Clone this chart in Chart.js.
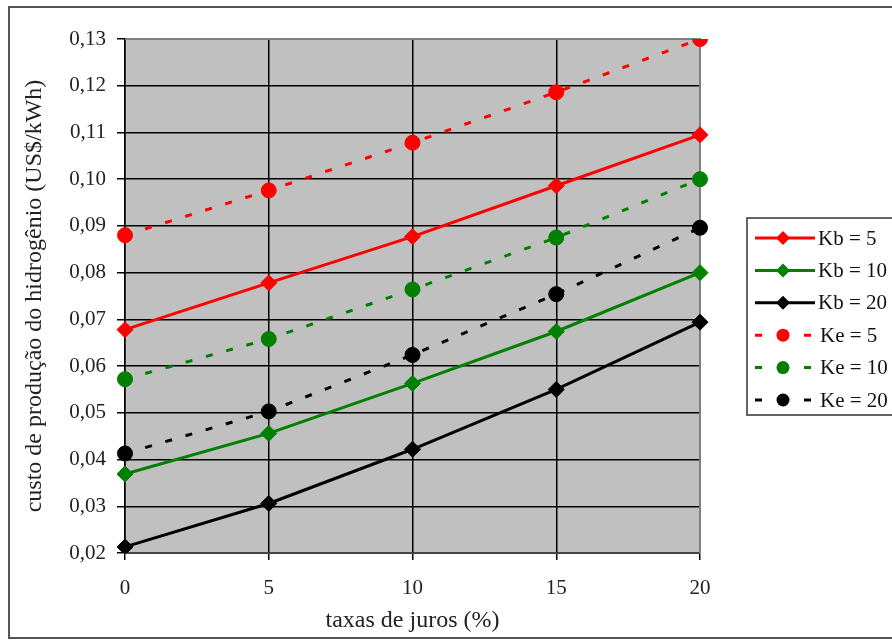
<!DOCTYPE html>
<html>
<head>
<meta charset="utf-8">
<title>custo de produção do hidrogênio</title>
<script src="https://cdn.jsdelivr.net/npm/chart.js@4/dist/chart.umd.min.js"></script>
<style>
  html, body { margin: 0; padding: 0; background: #fff; }
  #wrap { width: 892px; height: 644px; }
</style>
</head>
<body>
<div id="wrap"><canvas id="chart" width="892" height="644"></canvas></div>
<script>
// taxas de juros (%)
const categories = ['0', '5', '10', '15', '20'];

// custo (US$/kWh) per series
const kb5  = [0.0678, 0.0778, 0.0877, 0.0986, 0.1095];
const kb10 = [0.0369, 0.0456, 0.0563, 0.0674, 0.0800];
const kb20 = [0.0213, 0.0306, 0.0422, 0.0550, 0.0694];
const ke5  = [0.0880, 0.0976, 0.1078, 0.1186, 0.1300];
const ke10 = [0.0572, 0.0658, 0.0764, 0.0875, 0.1000];
const ke20 = [0.0413, 0.0503, 0.0624, 0.0754, 0.0896];

const seriesLabels = ['Kb = 5', 'Kb = 10', 'Kb = 20', 'Ke = 5', 'Ke = 10', 'Ke = 20'];
const yTicks = { min: 0.02, max: 0.13, step: 0.01 };

const RED = '#ff0000', GREEN = '#008000', BLACK = '#000000';
const FAMILY = '"Liberation Serif", "Times New Roman", serif';
const TICK_FONT = { family: FAMILY, size: 21 };
const TITLE_FONT = { family: FAMILY, size: 24 };

function solid(label, data, color){
  return { label, data, borderColor: color, backgroundColor: color, borderWidth: 3,
    pointStyle: 'rectRot', pointRadius: 8, pointBorderWidth: 1, tension: 0 };
}
function dashed(label, data, color){
  return { label, data, borderColor: color, backgroundColor: color, borderWidth: 3,
    borderDash: [7, 14], pointStyle: 'circle', pointRadius: 7.5, pointBorderWidth: 1, tension: 0 };
}

// plot background + gray frame
const plotFrame = {
  id: 'plotFrame',
  beforeDraw(chart){
    const a = chart.chartArea, c = chart.ctx;
    c.save();
    c.fillStyle = '#ffffff';
    c.fillRect(0, 0, chart.width, chart.height);
    c.fillStyle = '#c0c0c0';
    c.fillRect(a.left, a.top, a.right - a.left, a.bottom - a.top);
    c.restore();
  },
  beforeDatasetsDraw(chart){
    const a = chart.chartArea, c = chart.ctx;
    c.save();
    c.strokeStyle = '#808080';
    c.lineWidth = 2;
    c.beginPath();
    c.moveTo(a.left, a.top); c.lineTo(a.right, a.top); c.lineTo(a.right, a.bottom);
    c.stroke();
    c.restore();
  }
};

function marker(c, style, x, y, r){
  c.beginPath();
  if (style === 'rectRot'){
    c.moveTo(x, y - r); c.lineTo(x + r, y); c.lineTo(x, y + r); c.lineTo(x - r, y); c.closePath();
  } else {
    c.arc(x, y, r, 0, Math.PI * 2);
  }
  c.fill();
}

// boxed legend on the right and the outer border
const boxLegend = {
  id: 'boxLegend',
  afterDraw(chart){
    const c = chart.ctx;
    c.save();
    c.strokeStyle = '#555';
    c.lineWidth = 2;
    c.strokeRect(9, 7, 900, 631);
    c.lineWidth = 1.5;
    c.strokeStyle = '#333';
    c.strokeRect(747, 218, 160, 197);
    c.font = `${TICK_FONT.size}px ${FAMILY}`;
    c.textBaseline = 'middle';
    chart.data.datasets.forEach((ds, i) => {
      const y = 238 + i * 32.4;
      c.strokeStyle = ds.borderColor;
      c.fillStyle = ds.borderColor;
      c.lineWidth = ds.borderWidth;
      c.setLineDash(ds.borderDash ? [7, 42] : []);
      c.beginPath(); c.moveTo(755, y); c.lineTo(815, y); c.stroke();
      c.setLineDash([]);
      marker(c, ds.pointStyle, 783, y, ds.pointStyle === 'rectRot' ? 7 : 6.5);
      c.fillStyle = '#111';
      c.fillText(ds.label, ds.borderDash ? 820 : 818, y + 1);
    });
    c.restore();
  }
};

const datasets = [
  solid(seriesLabels[0], kb5, RED),
  solid(seriesLabels[1], kb10, GREEN),
  solid(seriesLabels[2], kb20, BLACK),
  dashed(seriesLabels[3], ke5, RED),
  dashed(seriesLabels[4], ke10, GREEN),
  dashed(seriesLabels[5], ke20, BLACK),
];

new Chart(document.getElementById('chart'), {
  type: 'line',
  data: { labels: categories, datasets },
  options: {
    responsive: false,
    animation: false,
    layout: { padding: { left: 0, top: 39, right: 192, bottom: 0 } },
    plugins: { legend: { display: false }, tooltip: { enabled: false } },
    scales: {
      x: {
        type: 'category',
        offset: false,
        grid: { offset: false, color: '#000', lineWidth: 1.5, tickLength: 7 },
        border: { color: '#444', width: 2 },
        ticks: { font: TICK_FONT, color: '#222', padding: 16, maxRotation: 0 },
        title: { display: true, text: 'taxas de juros (%)', font: TITLE_FONT, color: '#222', padding: { top: 0, bottom: 9 } },
        afterFit: (s) => { s.height = 91; }
      },
      y: {
        min: yTicks.min,
        max: yTicks.max,
        grid: { color: '#000', lineWidth: 1.5, tickLength: 8 },
        border: { color: '#000', width: 1.5 },
        ticks: { stepSize: yTicks.step, font: TICK_FONT, color: '#222', padding: 11,
          callback: (v) => v.toFixed(2).replace('.', ',') },
        title: { display: true, text: 'custo de produção do hidrogênio (US$/kWh)', font: TITLE_FONT, color: '#222', padding: { top: 20, bottom: 0 } },
        afterFit: (s) => { s.width = 125; }
      }
    }
  },
  plugins: [plotFrame, boxLegend]
});
</script>
</body>
</html>
